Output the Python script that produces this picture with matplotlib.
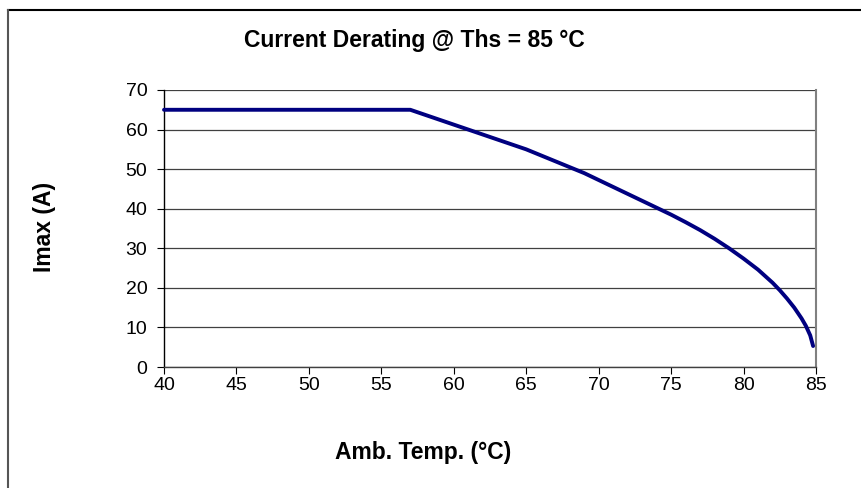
import matplotlib
matplotlib.use("Agg")
import matplotlib.pyplot as plt
from matplotlib.lines import Line2D

plt.rcParams['font.family'] = ['Liberation Sans', 'DejaVu Sans']

# ambient temperature (°C) vs max current (A)
amb_temp = [40, 57, 59, 61, 63, 65, 67, 69, 71, 73, 75, 76, 77, 78, 79,
            80, 81, 82, 82.5, 83, 83.5, 84, 84.3, 84.6, 84.8]
imax = [65, 65, 62.5, 60, 57.5, 55, 52, 49, 45.5, 42, 38.5, 36.6, 34.6, 32.4, 30,
        27.4, 24.6, 21.3, 19.4, 17.3, 15.0, 12.3, 10.4, 8.0, 5.3]

x_ticks = [40, 45, 50, 55, 60, 65, 70, 75, 80, 85]
y_ticks = [0, 10, 20, 30, 40, 50, 60, 70]

W, H = 861, 488
fig = plt.figure(figsize=(W / 100, H / 100), dpi=100)
ax = fig.add_axes([164 / W, 1 - 367 / H, (816 - 164) / W, (367 - 90) / H])

ax.plot(amb_temp, imax, color='#000080', lw=2.8, solid_capstyle='round',
        solid_joinstyle='round', zorder=3, clip_on=False)

ax.set_xlim(40, 85)
ax.set_ylim(0, 70)
ax.set_xticks(x_ticks)
ax.set_yticks(y_ticks)
ax.yaxis.grid(True, color='#404040', lw=0.9)
ax.set_axisbelow(True)
ax.tick_params(direction='out', length=5, width=0.8, color='black', labelsize=14)
ax.tick_params(axis='x', pad=2)
ax.tick_params(axis='y', pad=7)

ax.spines['left'].set_color('black')
ax.spines['bottom'].set_color('#404040')
ax.spines['top'].set_visible(False)
ax.spines['right'].set_color('#808080')
ax.spines['right'].set_linewidth(1.5)
for s in ['left', 'bottom']:
    ax.spines[s].set_linewidth(1.0)

fig.text(414 / W, 1 - 40 / H, 'Current Derating @ Ths = 85 °C', ha='center', va='center',
         fontsize=16.5, fontweight='bold')
fig.text(423 / W, 1 - 452 / H, 'Amb. Temp. (°C)', ha='center', va='center',
         fontsize=16.5, fontweight='bold')
fig.text(45 / W, 1 - 227 / H, 'Imax (A)', ha='center', va='center', rotation=90,
         fontsize=16.5, fontweight='bold')

# chart frame (top and left edges visible)
fig.add_artist(Line2D([8 / W, 1], [1 - 9.5 / H, 1 - 9.5 / H], transform=fig.transFigure,
                      color='black', lw=1.5))
fig.add_artist(Line2D([8 / W, 8 / W], [0, 1 - 9.5 / H], transform=fig.transFigure,
                      color='#555555', lw=1.5))

fig.savefig('out.png', dpi=100)
